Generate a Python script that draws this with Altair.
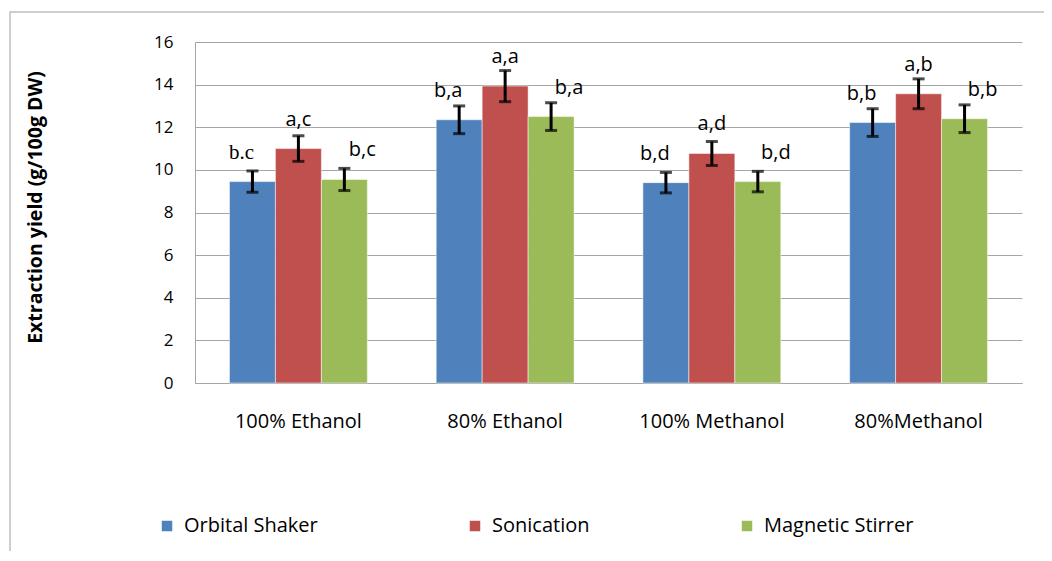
import altair as alt
import pandas as pd

categories = ["100% Ethanol", "80% Ethanol", "100% Methanol", "80%Methanol"]
series = ["Orbital Shaker", "Sonication", "Magnetic Stirrer"]
colors = ["#4F81BD", "#C0504D", "#9BBB59"]

orbital = [9.45, 12.35, 9.4, 12.22]
sonication = [11.0, 13.93, 10.77, 13.57]
magnetic = [9.55, 12.5, 9.45, 12.4]

orbital_err = [0.5, 0.65, 0.48, 0.65]
sonication_err = [0.6, 0.73, 0.56, 0.7]
magnetic_err = [0.52, 0.65, 0.48, 0.65]

orbital_lbl = ["b.c", "b,a", "b,d", "b,b"]
sonication_lbl = ["a,c", "a,a", "a,d", "a,b"]
magnetic_lbl = ["b,c", "b,a", "b,d", "b,b"]

rows = []
for s, vals, errs, lbls in zip(series, [orbital, sonication, magnetic],
                               [orbital_err, sonication_err, magnetic_err],
                               [orbital_lbl, sonication_lbl, magnetic_lbl]):
    for c, v, e, l in zip(categories, vals, errs, lbls):
        rows.append({"cat": c, "series": s, "value": v, "lo": v - e, "hi": v + e, "lbl": l})
df = pd.DataFrame(rows)

FONT = "Open Sans"

x_enc = alt.X("cat:N", sort=categories, title=None,
              scale=alt.Scale(paddingInner=0.333, paddingOuter=0.1667),
              axis=alt.Axis(labelAngle=0, ticks=False, labelPadding=28, labelFontSize=20,
                            labelColor="#000", domainColor="#a6a6a6", labelFont=FONT))
xo = alt.XOffset("series:N", sort=series, scale=alt.Scale(paddingInner=0, paddingOuter=0))

base = alt.Chart(df)

bars = base.mark_bar(stroke="white", strokeWidth=0.5).encode(
    x=x_enc,
    xOffset=xo,
    y=alt.Y("value:Q", title="Extraction yield (g/100g DW)",
            scale=alt.Scale(domain=[0, 16]),
            axis=alt.Axis(values=list(range(0, 17, 2)), ticks=False, labelPadding=22,
                          labelFontSize=17, labelColor="#000", labelFont=FONT,
                          gridColor="#a6a6a6", domainColor="#a6a6a6",
                          titleFontSize=19.5, titleFontWeight="bold", titleFont=FONT,
                          titleColor="#000", titleX=-150, titleY=165)),
    color=alt.Color("series:N", sort=series, title=None,
                    scale=alt.Scale(domain=series, range=colors),
                    legend=alt.Legend(orient="none", legendX=-38, legendY=474,
                                      direction="horizontal", columns=3,
                                      columnPadding=147, symbolType="square",
                                      symbolSize=110, symbolStrokeWidth=0,
                                      labelFontSize=20, labelFont=FONT, labelColor="#000",
                                      symbolOffset=0, labelOffset=7)),
)

rule = base.mark_rule(color="black", strokeWidth=3).encode(
    x=alt.X("cat:N", sort=categories), xOffset=xo,
    y="lo:Q", y2="hi:Q")
cap_hi = base.mark_tick(color="black", thickness=3, size=12).encode(
    x=alt.X("cat:N", sort=categories), xOffset=xo, y="hi:Q")
cap_lo = base.mark_tick(color="black", thickness=3, size=12).encode(
    x=alt.X("cat:N", sort=categories), xOffset=xo, y="lo:Q")

label_layers = []
for s, dx in zip(series, [-11, 0, 18]):
    label_layers.append(
        base.transform_filter((alt.datum.series == s) & (alt.datum.lbl != "b.c")).mark_text(
            dx=dx, dy=-29, fontSize=20, font=FONT, color="#000", baseline="middle"
        ).encode(x=alt.X("cat:N", sort=categories), xOffset=xo, y="value:Q", text="lbl:N")
    )
label_layers.append(
    base.transform_filter(alt.datum.lbl == "b.c").mark_text(
        dx=-11, dy=-29, fontSize=21, font="Liberation Serif", color="#000", baseline="middle"
    ).encode(x=alt.X("cat:N", sort=categories), xOffset=xo, y="value:Q", text="lbl:N")
)

frame = alt.Chart(pd.DataFrame({"f": [0]})).mark_rect(
    fill=None, stroke="#bfbfbf", strokeWidth=1.5
).encode(x=alt.value(-185), x2=alt.value(900), y=alt.value(-30), y2=alt.value(620))

chart = alt.layer(frame, bars, rule, cap_hi, cap_lo, *label_layers).properties(
    width=827, height=341,
    autosize=alt.AutoSizeParams(type="none"),
    padding={"left": 187, "top": 34, "right": 22, "bottom": 168},
).configure_view(stroke=None).configure_axisY(domain=True)

chart.save("out.html", embed_options={"renderer": "svg", "actions": False})
